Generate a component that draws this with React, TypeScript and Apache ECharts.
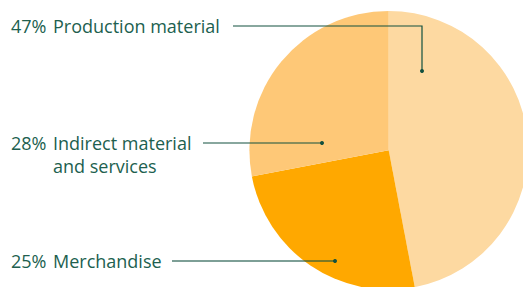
import React, { useEffect, useRef } from "react";
import * as echarts from "echarts";

const categories = ["Production material", "Merchandise", "Indirect material\nand services"];
const values = [47, 25, 28];
const percentLabels = ["47%", "25%", "28%"];
const colors = ["#FDD9A1", "#FFA800", "#FEC877"];

export default function App() {
  const ref = useRef<HTMLDivElement>(null);
  useEffect(() => {
    if (!ref.current) return;
    const chart = echarts.init(ref.current, undefined, { renderer: "svg" });
    const textColor = "#215f4f";
    const lineColor = "#12503f";
    const font = "'Open Sans'";
    const fs = 18;
    const lh = 23;
    const anchors = [
      { y: 25.5, pts: [[233, 26], [422, 26], [422, 71]], op: 1, w: 1.2 },
      { y: 260.5, pts: [[172, 261], [335, 261]], op: 0.55, w: 2 },
      { y: 142.5, pts: [[203, 143], [322, 143]], op: 1, w: 1.2 },
    ];
    const graphics: any[] = [];
    categories.forEach((name, i) => {
      const a = anchors[i];
      graphics.push({
        type: "text",
        x: 11,
        y: a.y - lh / 2,
        style: { text: percentLabels[i], fill: textColor, font: `${fs}px ${font}`, lineHeight: lh, textVerticalAlign: "top", textAlign: "left" },
      });
      graphics.push({
        type: "text",
        x: 53,
        y: a.y - lh / 2,
        style: { text: name, fill: textColor, font: `${fs}px ${font}`, lineHeight: lh, textVerticalAlign: "top", textAlign: "left" },
      });
      graphics.push({
        type: "polyline",
        shape: { points: a.pts },
        style: { stroke: lineColor, lineWidth: a.w, opacity: a.op, fill: null },
        z: 10,
      });
      const last = a.pts[a.pts.length - 1];
      graphics.push({
        type: "circle",
        shape: { cx: last[0], cy: last[1], r: 2 },
        style: { fill: lineColor },
        z: 11,
      });
    });
    chart.setOption({
      animation: false,
      color: colors,
      series: [
        {
          type: "pie",
          center: [388.7, 150.3],
          radius: 139.3,
          startAngle: 90,
          clockwise: true,
          label: { show: false },
          labelLine: { show: false },
          emphasis: { disabled: true },
          data: categories.map((name, i) => ({ name, value: values[i] })),
        },
      ],
      graphic: graphics,
    });
    return () => chart.dispose();
  }, []);
  return <div ref={ref} style={{ position: "absolute", left: 0, top: 0, width: 523, height: 287 }} />;
}
